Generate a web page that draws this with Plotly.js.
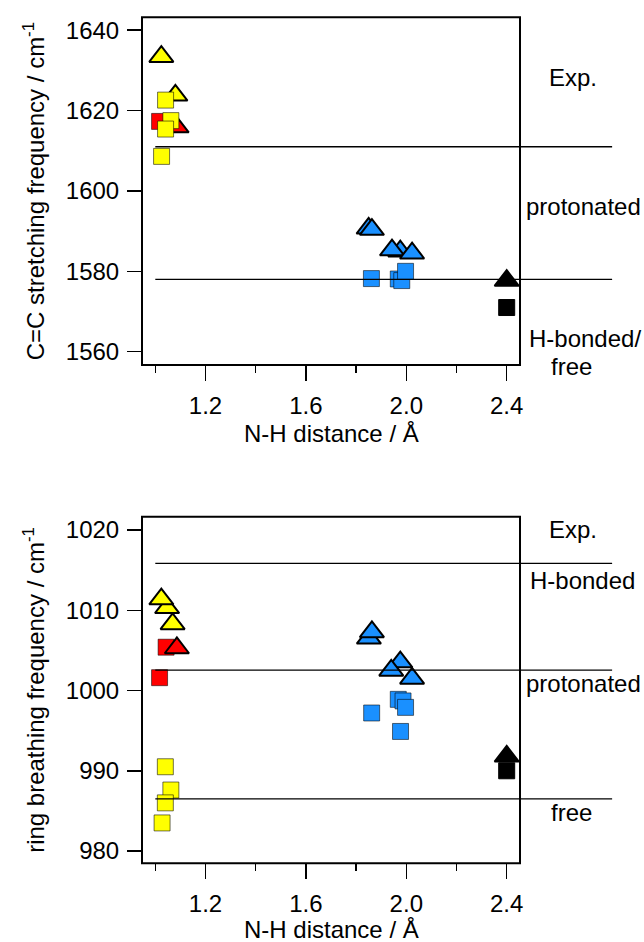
<!DOCTYPE html>
<html>
<head>
<meta charset="utf-8">
<script src="https://cdn.plot.ly/plotly-3.0.1.min.js"></script>
<style>html,body{margin:0;padding:0;background:#fff;}</style>
</head>
<body>
<div id="chart" style="width:644px;height:942px;"></div>
<script>
// ---------------- data ----------------
const xTickVals = [1.2, 1.6, 2.0, 2.4];
const xTickText = ['1.2', '1.6', '2.0', '2.4'];
const xMinorVals = [1.0, 1.4, 1.8, 2.2];

// Top panel: C=C stretching frequency
const ccRedSqX = [1.017];               const ccRedSqY = [1617.3];
const ccRedTriX = [1.085];              const ccRedTriY = [1615.9];
const ccYelTriX = [1.024, 1.080];       const ccYelTriY = [1633.4, 1623.8];
const ccYelSqX = [1.041, 1.062, 1.041, 1.025];
const ccYelSqY = [1622.6, 1617.5, 1615.4, 1608.6];
const ccBlueTriX = [1.850, 1.863, 1.976, 1.943, 2.023];
const ccBlueTriY = [1590.7, 1590.4, 1585.0, 1585.3, 1584.5];
const ccBlueSqX = [1.861, 1.968, 1.982, 1.997];
const ccBlueSqY = [1578.2, 1578.1, 1577.7, 1580.0];
const ccBlackTriX = [2.40];             const ccBlackTriY = [1577.7];
const ccBlackSqX = [2.40];              const ccBlackSqY = [1571.0];
const ccExpLines = [1611.0, 1578.0];
const ccLabels = ['Exp.', 'protonated', 'H-bonded/', 'free'];

// Bottom panel: ring breathing frequency
const rbRedSqX = [1.043, 1.017];        const rbRedSqY = [1005.4, 1001.6];
const rbRedTriX = [1.086];              const rbRedTriY = [1005.3];
const rbYelTriX = [1.069, 1.047, 1.024]; const rbYelTriY = [1008.3, 1010.3, 1011.4];
const rbYelSqX = [1.040, 1.062, 1.040, 1.027];
const rbYelSqY = [990.5, 987.6, 986.0, 983.5];
const rbBlueTriX = [1.851, 1.863, 1.976, 1.940, 2.023];
const rbBlueTriY = [1006.5, 1007.3, 1003.55, 1002.5, 1001.5];
const rbBlueSqX = [1.862, 1.968, 1.987, 1.997, 1.977];
const rbBlueSqY = [997.2, 998.9, 998.7, 997.9, 994.9];
const rbBlackTriX = [2.40];             const rbBlackTriY = [991.8];
const rbBlackSqX = [2.40];              const rbBlackSqY = [990.0];
const rbExpLines = [1015.85, 1002.55, 986.5];
const rbLabels = ['Exp.', 'H-bonded', 'protonated', 'free'];

// ---------------- style / layout positions ----------------
const FONT = 'Liberation Sans, Arial, Helvetica, sans-serif';
const FS = 24;
const H = 942;
const RED = '#ff0000', YEL = '#ffff00', BLUE = '#1a90ff', BLACK = '#000000';
const X_RANGE = [0.947, 2.947];
const BOX_X1 = 2.453;
const LINE_X = [1.0, 2.82];
const LABEL_X = [2.663, 2.706, 2.713, 2.660];
const LABEL_X_B = [2.663, 2.700, 2.706, 2.660];
const LABEL_PX_Y = [78, 206.7, 338.5, 366];        // pixel rows of the right-hand texts (top)
const LABEL_PX_Y_B = [529.2, 580.8, 683.3, 812.5]; // (bottom)
const TOP_Y_RANGE = [1556.7, 1643.2];
const BOT_Y_RANGE = [978.47, 1021.66];

function tri(x, y, color, xa, ya) {
  return {type: 'scatter', mode: 'markers', x: x, y: y, xaxis: xa, yaxis: ya,
    cliponaxis: false, hoverinfo: 'skip',
    marker: {symbol: 'triangle-up', size: 21, color: color, line: {color: '#000', width: 2}}};
}
function sq(x, y, color, xa, ya, lc) {
  return {type: 'scatter', mode: 'markers', x: x, y: y, xaxis: xa, yaxis: ya,
    cliponaxis: false, hoverinfo: 'skip',
    marker: {symbol: 'square', size: 16, color: color, line: {color: lc || 'rgba(0,0,0,0.55)', width: 1}}};
}

const traces = [
  sq(ccRedSqX, ccRedSqY, RED, 'x', 'y'),
  tri(ccRedTriX, ccRedTriY, RED, 'x', 'y'),
  tri(ccYelTriX, ccYelTriY, YEL, 'x', 'y'),
  sq(ccYelSqX, ccYelSqY, YEL, 'x', 'y'),
  tri(ccBlueTriX, ccBlueTriY, BLUE, 'x', 'y'),
  sq(ccBlueSqX, ccBlueSqY, BLUE, 'x', 'y'),
  tri(ccBlackTriX, ccBlackTriY, BLACK, 'x', 'y'),
  sq(ccBlackSqX, ccBlackSqY, BLACK, 'x', 'y', '#000'),

  sq(rbRedSqX, rbRedSqY, RED, 'x2', 'y2'),
  tri(rbRedTriX, rbRedTriY, RED, 'x2', 'y2'),
  tri(rbYelTriX, rbYelTriY, YEL, 'x2', 'y2'),
  sq(rbYelSqX, rbYelSqY, YEL, 'x2', 'y2'),
  tri(rbBlueTriX, rbBlueTriY, BLUE, 'x2', 'y2'),
  sq(rbBlueSqX, rbBlueSqY, BLUE, 'x2', 'y2'),
  sq(rbBlackSqX, rbBlackSqY, BLACK, 'x2', 'y2', '#000'),
  tri(rbBlackTriX, rbBlackTriY, BLACK, 'x2', 'y2')
];

const tickFont = {family: FONT, size: FS, color: '#000'};

function xAxis(anchor) {
  return {
    anchor: anchor, domain: [0, 1], range: X_RANGE, showgrid: false, zeroline: false,
    showline: false, ticks: 'outside', ticklen: 15, tickwidth: 1.5, tickcolor: '#000',
    tickmode: 'array', tickvals: xTickVals, ticktext: xTickText, tickfont: tickFont,
    ticklabelstandoff: 4,
    minor: {tickmode: 'array', tickvals: xMinorVals, ticks: 'outside', ticklen: 7, tickwidth: 1.5, tickcolor: '#000', showgrid: false}
  };
}
function yAxis(anchor, domain, range, dtick, tick0, title) {
  return {
    anchor: anchor, domain: domain, range: range, showgrid: false, zeroline: false,
    showline: false, ticks: 'outside', ticklen: 14, tickwidth: 1.5, tickcolor: '#000',
    dtick: dtick, tick0: tick0, tickfont: tickFont, ticklabelstandoff: 3,
    title: {text: title, font: {family: FONT, size: FS, color: '#000'}, standoff: 14}
  };
}

const shapes = [];
const annotations = [];
const boxFrac = (BOX_X1 - X_RANGE[0]) / (X_RANGE[1] - X_RANGE[0]);
[['x', 'y'], ['x2', 'y2']].forEach(function (p) {
  shapes.push({type: 'rect', xref: p[0] + ' domain', yref: p[1] + ' domain',
    x0: 0, x1: boxFrac, y0: 0, y1: 1, line: {color: '#000', width: 2}, layer: 'above'});
});
ccExpLines.forEach(function (v) {
  shapes.push({type: 'line', xref: 'x', yref: 'y', x0: LINE_X[0], x1: LINE_X[1], y0: v, y1: v,
    line: {color: '#000', width: 1.3}, layer: 'above'});
});
rbExpLines.forEach(function (v) {
  shapes.push({type: 'line', xref: 'x2', yref: 'y2', x0: LINE_X[0], x1: LINE_X[1], y0: v, y1: v,
    line: {color: '#000', width: 1.3}, layer: 'above'});
});
ccLabels.forEach(function (t, i) {
  annotations.push({text: t, xref: 'x', yref: 'paper', x: LABEL_X[i], y: 1 - LABEL_PX_Y[i] / H, borderpad: 0,
    showarrow: false, xanchor: 'center', yanchor: 'middle', font: {family: FONT, size: FS, color: '#000'}});
});
rbLabels.forEach(function (t, i) {
  annotations.push({text: t, xref: 'x2', yref: 'paper', x: LABEL_X_B[i], y: 1 - LABEL_PX_Y_B[i] / H, borderpad: 0,
    showarrow: false, xanchor: 'center', yanchor: 'middle', font: {family: FONT, size: FS, color: '#000'}});
});
// x-axis titles centred under the framed box
const xTitleX = (X_RANGE[0] + BOX_X1) / 2;
annotations.push({text: 'N-H distance / Å', xref: 'x', yref: 'paper', x: xTitleX, y: 1 - 433 / H,
  showarrow: false, xanchor: 'center', yanchor: 'middle', font: {family: FONT, size: FS, color: '#000'}});
annotations.push({text: 'N-H distance / Å', xref: 'x2', yref: 'paper', x: xTitleX, y: 1 - 929 / H,
  showarrow: false, xanchor: 'center', yanchor: 'middle', font: {family: FONT, size: FS, color: '#000'}});

const layout = {
  width: 644, height: H,
  margin: {l: 142, r: 0, t: 0, b: 0},
  paper_bgcolor: '#fff', plot_bgcolor: '#fff',
  showlegend: false,
  font: {family: FONT, size: FS, color: '#000'},
  xaxis: xAxis('y'),
  yaxis: yAxis('x', [1 - 365 / H, 1 - 17.3 / H], TOP_Y_RANGE, 20, 1560, 'C=C stretching frequency / cm<sup>-1</sup>'),
  xaxis2: xAxis('y2'),
  yaxis2: yAxis('x2', [1 - 863.3 / H, 1 - 516.7 / H], BOT_Y_RANGE, 10, 980, 'ring breathing frequency / cm<sup>-1</sup>'),
  shapes: shapes,
  annotations: annotations
};

Plotly.newPlot('chart', traces, layout, {displayModeBar: false, staticPlot: true});
</script>
</body>
</html>
